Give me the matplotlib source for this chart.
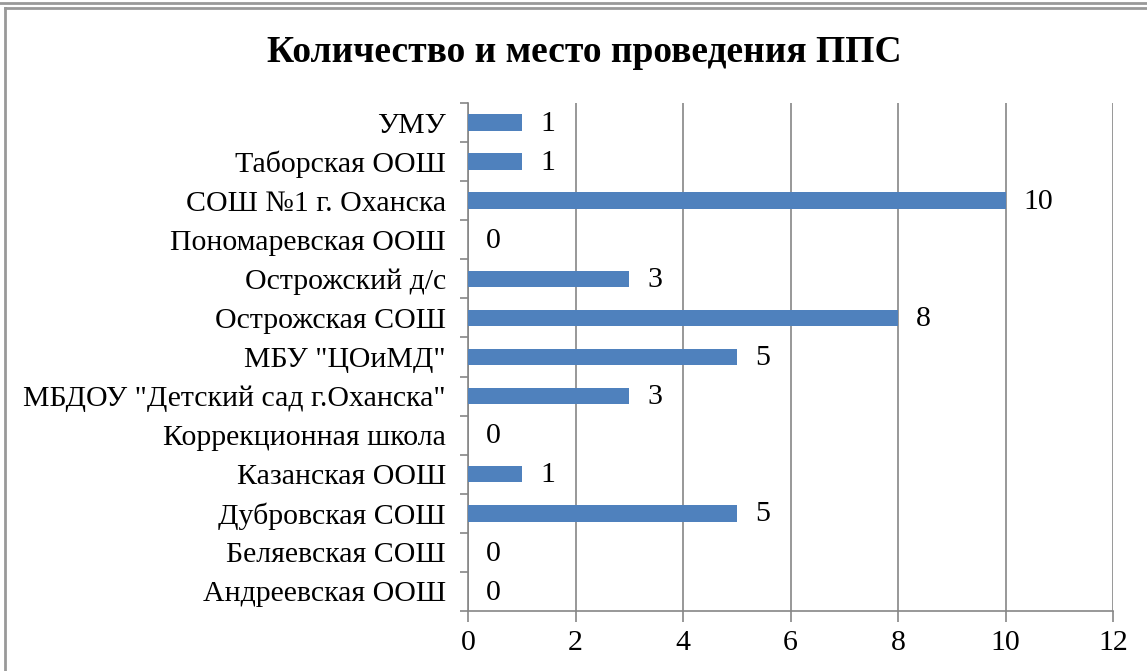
import matplotlib.pyplot as plt
from matplotlib.lines import Line2D

plt.rcParams['font.family'] = ['Liberation Serif', 'DejaVu Serif']

# данные снизу вверх, как на графике
schools = ['Андреевская ООШ', 'Беляевская СОШ', 'Дубровская СОШ', 'Казанская ООШ',
           'Коррекционная школа', 'МБДОУ "Детский сад г.Оханска"', 'МБУ "ЦОиМД"',
           'Острожская СОШ', 'Острожский д/с', 'Пономаревская ООШ',
           'СОШ №1 г. Оханска', 'Таборская ООШ', 'УМУ']
counts = [0, 0, 5, 1, 0, 3, 5, 8, 3, 0, 10, 1, 1]
xticks = [0, 2, 4, 6, 8, 10, 12]

W, H = 1147, 671
fig = plt.figure(figsize=(W / 100, H / 100), dpi=100)
ax = fig.add_axes([468 / W, 1 - 611 / H, 645 / W, 508 / H])

grey = '#868686'
fs = 21.5
ypos = list(range(len(schools)))
ax.barh(ypos, counts, height=0.42, color='#4f81bd', zorder=3)
for y, v in zip(ypos, counts):
    ax.text(v + 0.34, y - 0.03, str(v), va='center', ha='left', fontsize=fs)

ax.set_xlim(0, 12)
ax.set_ylim(-0.5, len(schools) - 0.5)
ax.set_xticks(xticks)
ax.set_xticklabels([str(t) for t in xticks], fontsize=fs)
ax.set_yticks(ypos)
ax.set_yticklabels(schools, fontsize=fs)
ax.set_yticks([y - 0.5 for y in ypos] + [len(schools) - 0.5], minor=True)
ax.tick_params(axis='y', which='major', length=0, pad=16)
ax.tick_params(axis='y', which='minor', length=6, color=grey, width=1.2)
ax.tick_params(axis='x', length=8, color=grey, width=1.2, pad=6)
ax.grid(axis='x', color=grey, linewidth=1.2, zorder=0)
for s in ['top', 'right']:
    ax.spines[s].set_visible(False)
for s in ['left', 'bottom']:
    ax.spines[s].set_color(grey)
    ax.spines[s].set_linewidth(1.2)

fig.text(584 / W, 1 - 52 / H, 'Количество и место проведения ППС',
         ha='center', va='center', fontsize=27, fontweight='bold')

# рамка
fig.add_artist(Line2D([0, 1], [1 - 2.5 / H, 1 - 2.5 / H], color='#999999', lw=2))
fig.add_artist(Line2D([5 / W, 1], [1 - 7.5 / H, 1 - 7.5 / H], color='#999999', lw=2))
fig.add_artist(Line2D([5 / W, 5 / W], [0, 1 - 7.5 / H], color='#999999', lw=2))

fig.savefig('out.png', dpi=100)
